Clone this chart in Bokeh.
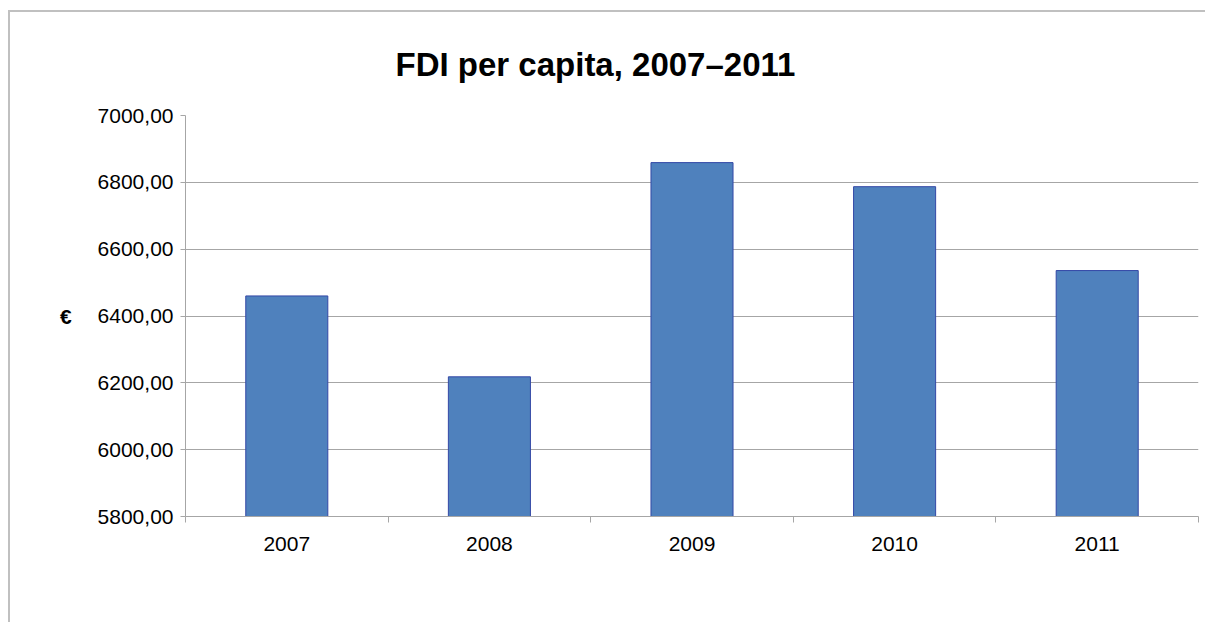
from bokeh.plotting import figure
from bokeh.models import FixedTicker, ColumnDataSource, Range1d
from bokeh.embed import file_html
from bokeh.resources import INLINE
import numpy as np

# ---- data ----
years = ["2007", "2008", "2009", "2010", "2011"]
fdi_per_capita = [6460, 6218, 6859, 6787, 6536]
y_ticks = [5800, 6000, 6200, 6400, 6600, 6800, 7000]
title_text = "FDI per capita, 2007\u20132011"
y_label = "\u20ac"

# positions derived through the numeric scale: category i centred at i + 0.5
x_centers = list(np.arange(len(years)) + 0.5)
x_bounds = list(np.arange(len(years) + 1).astype(float))

src = ColumnDataSource(dict(x=x_centers, top=fdi_per_capita, year=years))

FONT = "Liberation Sans"

p = figure(
    width=1197, height=612,
    output_backend="svg", toolbar_location=None,
    x_range=Range1d(0, len(years)), y_range=Range1d(y_ticks[0], y_ticks[-1]),
    min_border_left=175, min_border_right=9, min_border_top=103, min_border_bottom=108,
)
p.styles = {"border-left": "2px solid #c0c0c0", "border-top": "2px solid #c0c0c0",
            "margin-top": "10px", "margin-left": "8px"}
p.outline_line_color = None
p.background_fill_color = "white"
p.border_fill_color = "white"

p.vbar(x="x", top="top", bottom=y_ticks[0], width=0.405, source=src,
       fill_color="#4f81bd", line_color="#3348a6", line_width=1)

# title
p.title.text = title_text
p.title.text_font = FONT
p.title.text_font_size = "33px"
p.title.text_font_style = "bold"
p.title.text_color = "black"
p.title.align = "left"
p.title.offset = 210
p.title.vertical_align = "top"
p.title.standoff = 62

# x axis
xa = p.xaxis[0]
xa.ticker = FixedTicker(ticks=x_centers, minor_ticks=x_bounds)
xa.major_label_overrides = {float(c): y for c, y in zip(x_centers, years)}
xa.major_tick_line_color = None
xa.major_tick_out = 0
xa.major_tick_in = 0
xa.minor_tick_line_color = "#a6a6a6"
xa.minor_tick_out = 6
xa.minor_tick_in = 0
xa.axis_line_color = "#a6a6a6"
xa.major_label_text_font = FONT
xa.major_label_text_font_size = "21px"
xa.major_label_text_color = "black"
xa.major_label_standoff = 14

# y axis
ya = p.yaxis[0]
ya.ticker = FixedTicker(ticks=y_ticks, minor_ticks=[])
ya.major_label_overrides = {v: f"{v:.2f}".replace(".", ",") for v in y_ticks}
ya.major_tick_line_color = "#a6a6a6"
ya.major_tick_out = 5
ya.major_tick_in = 0
ya.minor_tick_line_color = None
ya.axis_line_color = "#a6a6a6"
ya.major_label_text_font = FONT
ya.major_label_text_font_size = "21px"
ya.major_label_text_color = "black"
ya.major_label_standoff = 7
ya.axis_label = y_label
ya.axis_label_orientation = "horizontal"
ya.axis_label_text_font = FONT
ya.axis_label_text_font_size = "21px"
ya.axis_label_text_font_style = "bold"
ya.axis_label_text_color = "black"
ya.axis_label_standoff = 23

p.xgrid.grid_line_color = None
p.ygrid.grid_line_color = "#a6a6a6"
p.ygrid.grid_line_width = 1

open("out.html", "w").write(file_html(p, INLINE))
